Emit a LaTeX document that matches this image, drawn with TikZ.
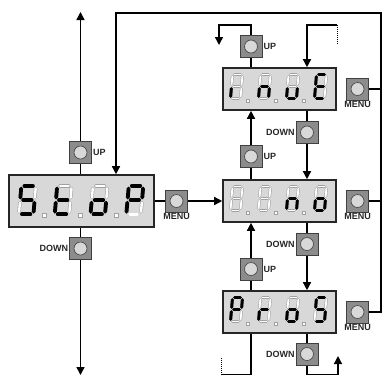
\documentclass[tikz,border=0pt]{standalone}
\usepackage{fontspec}
\setmainfont{Liberation Sans}
\usetikzlibrary{arrows.meta,backgrounds}
\definecolor{dispfill}{HTML}{D8D8D8}
\definecolor{btnfill}{HTML}{8C8C8C}
\definecolor{btncirc}{HTML}{D8D8D8}
\definecolor{segoffc}{HTML}{A0A0A0}
\tikzset{
  display/.style={draw=black!85, line width=1.6pt, fill=dispfill, inner sep=0pt},
  stopbox/.style={display, minimum width=145pt, minimum height=52pt},
  menubox/.style={display, minimum width=113pt, minimum height=42pt},
  btn/.style={draw=black!75, line width=0.6pt, fill=btnfill, minimum size=22pt, inner sep=0pt,
    path picture={\draw[black!70, line width=0.7pt, fill=btncirc] (path picture bounding box.center) circle (6.5pt);}},
  lbl/.style={font=\fontsize{9}{9}\selectfont\bfseries, inner sep=1pt, text=black!85},
  conn/.style={line width=1.4pt, draw=black},
  arr/.style={conn, -{Triangle[length=8pt,width=8pt]}},
  dotline/.style={draw=black, line width=1pt, dash pattern=on 1pt off 1pt},
  segon/.style={line width=#1, draw=black, line cap=round},
  segoff/.style={draw=segoffc, line width=0.55pt, double=white, double distance=#1, line cap=round},
  dotoff/.style={draw=segoffc, fill=white, line width=0.5pt}
}
\newcommand\drawseg[2]{%
  \if#1a\draw[#2] (.21,2)--(.79,2);\fi
  \if#1b\draw[#2] (1,1.18)--(1,1.82);\fi
  \if#1c\draw[#2] (1,.18)--(1,.82);\fi
  \if#1d\draw[#2] (.21,0)--(.79,0);\fi
  \if#1e\draw[#2] (0,.18)--(0,.82);\fi
  \if#1f\draw[#2] (0,1.18)--(0,1.82);\fi
  \if#1g\draw[#2] (.21,1)--(.79,1);\fi}
\newcommand\digitbody[3]{%
  \foreach \s in {a,b,c,d,e,f,g}{\drawseg{\s}{segoff=#2}}%
  \foreach \s in {#3}{\drawseg{\s}{segon=#1}}}
\newcommand\bigdigit[3]{\begin{scope}[shift={(#1,#2)},x={(14.5pt,0pt)},y={(1.25pt,14.2pt)}]\digitbody{3.8pt}{2.4pt}{#3}\end{scope}}
\newcommand\smalldigit[3]{\begin{scope}[shift={(#1,#2)},x={(10pt,0pt)},y={(1pt,12pt)}]\digitbody{3pt}{1.8pt}{#3}\end{scope}}
\begin{document}
\begin{tikzpicture}[x=1pt,y=-1pt]
\useasboundingbox (0,0) rectangle (382,376);
% displays
\node[stopbox] (stop) at (81.5,201) {};
\node[menubox] (inue) at (279.5,89) {};
\node[menubox] (nobox) at (279.5,201) {};
\node[menubox] (pros) at (279.5,312) {};
% buttons
\node[btn] (su) at (80.5,152.5) {};
\node[btn] (sd) at (80.5,248.5) {};
\node[btn] (sm) at (176.5,201) {};
\node[btn] (iu) at (251,46.5) {};
\node[btn] (im) at (357.5,89) {};
\node[btn] (id) at (307,132.5) {};
\node[btn] (nu) at (251,156.5) {};
\node[btn] (nm) at (357.5,201) {};
\node[btn] (nd) at (307,244) {};
\node[btn] (pu) at (251,269) {};
\node[btn] (pm) at (357.5,312) {};
\node[btn] (pd) at (307,354) {};
% labels
\node[lbl, anchor=west] (sul) at (su.east) {UP};
\node[lbl, anchor=east] (sdl) at (sd.west) {DOWN};
\node[lbl, anchor=north] (sml) at (sm.south) {MENU};
\node[lbl, anchor=west] (iul) at (iu.east) {UP};
\node[lbl, anchor=north] (iml) at (im.south) {MENU};
\node[lbl, anchor=east] (idl) at (id.west) {DOWN};
\node[lbl, anchor=west] (nul) at (nu.east) {UP};
\node[lbl, anchor=north] (nml) at (nm.south) {MENU};
\node[lbl, anchor=east] (ndl) at (nd.west) {DOWN};
\node[lbl, anchor=west] (pul) at (pu.east) {UP};
\node[lbl, anchor=north] (pml) at (pm.south) {MENU};
\node[lbl, anchor=east] (pdl) at (pd.west) {DOWN};
% free ends
\coordinate (stoptop) at (80.5,12);
\coordinate (stopbot) at (80.5,375);
\coordinate (rail) at (381,13);
\coordinate (loopl) at (116,13);
\coordinate (tl) at (219,25);
\coordinate (tlend) at (219,45);
\coordinate (tr) at (337,25);
\coordinate (trend) at (337,45);
\coordinate (bl) at (221,374.5);
\coordinate (blend) at (221,357);
\coordinate (br) at (338,374.5);
\coordinate (brend) at (338,356);
% connectors
\begin{scope}[on background layer]
\draw[arr] (su |- stop.north) -- (stoptop);
\draw[arr] (sd |- stop.south) -- (stopbot);
\draw[arr] (pm) -| (rail) -- (loopl) -- (loopl |- stop.north);
\draw[conn] (im) -- (im -| rail);
\draw[conn] (nm) -- (nm -| rail);
\draw[arr] (stop.east) -- (nobox.west);
\draw[arr] (iu |- inue.north) -- (iu |- tl) -- (tl) -- (tlend);
\draw[arr] (tr) -- (tr -| id) -- (id |- inue.north);
\draw[dotline] (tr) -- (trend);
\draw[arr] (id |- inue.south) -- (id |- nobox.north);
\draw[arr] (nu |- nobox.north) -- (nu |- inue.south);
\draw[arr] (nd |- nobox.south) -- (nd |- pros.north);
\draw[arr] (pu |- pros.north) -- (pu |- nobox.south);
\draw[arr] (pd |- pros.south) |- (br) -- (brend);
\draw[conn] (pu |- pros.south) |- (bl);
\draw[dotline] (bl) -- (blend);
\end{scope}
% Stop digits
\foreach \i in {0,1,2} \draw[dotoff] ({42.5+35.8*\i},213.5) rectangle ++(4,4);
\bigdigit{18.9}{214.3}{a,f,g,c,d}
\bigdigit{54.7}{214.3}{f,e,d,g}
\bigdigit{90.5}{214.3}{g,c,d,e}
\bigdigit{126.3}{214.3}{a,b,f,g,e}
% inuE digits
\foreach \i in {0,1,2} \draw[dotoff] ({246.5+28*\i},98.8) rectangle ++(3,3);
\smalldigit{230.5}{98.5}{e}
\smalldigit{258.5}{98.5}{e,g,c}
\smalldigit{286.5}{98.5}{c,d,e}
\smalldigit{314.5}{98.5}{a,f,g,e,d}
% no digits
\foreach \i in {0,1,2} \draw[dotoff] ({246.5+28*\i},210.8) rectangle ++(3,3);
\smalldigit{230.5}{210.5}{x}
\smalldigit{258.5}{210.5}{x}
\smalldigit{286.5}{210.5}{e,g,c}
\smalldigit{314.5}{210.5}{g,c,d,e}
% Pros digits
\foreach \i in {0,1,2} \draw[dotoff] ({246.5+28*\i},321.8) rectangle ++(3,3);
\smalldigit{230.5}{321.5}{a,b,f,g,e}
\smalldigit{258.5}{321.5}{e,g}
\smalldigit{286.5}{321.5}{g,c,d,e}
\smalldigit{314.5}{321.5}{a,f,g,c,d}
\end{tikzpicture}
\end{document}
